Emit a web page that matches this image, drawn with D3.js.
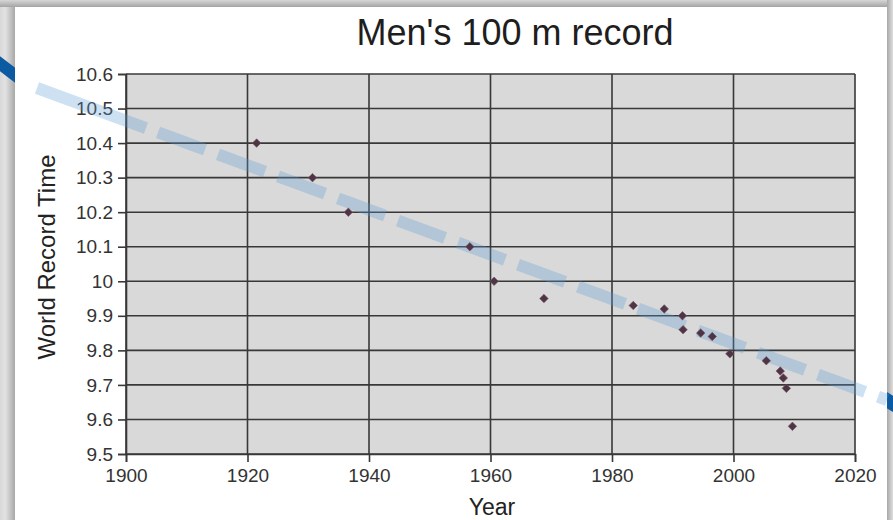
<!DOCTYPE html>
<html>
<head>
<meta charset="utf-8">
<script src="https://cdn.jsdelivr.net/npm/d3@7"></script>
<style>
  html, body { margin: 0; padding: 0; background: #cfcfcf; }
  svg { display: block; }
  text { font-family: "Liberation Sans", Arial, sans-serif; }
</style>
</head>
<body>
<svg id="chart" width="893" height="520"></svg>
<script>
// ---- data ----
const years = [1921.5, 1930.7, 1936.6, 1956.6, 1960.6, 1968.8, 1983.5, 1988.6, 1991.6, 1991.7, 1994.6, 1996.5, 1999.4, 2005.4, 2007.7, 2008.2, 2008.7, 2009.7];
const times = [10.4, 10.3, 10.2, 10.1, 10.0, 9.95, 9.93, 9.92, 9.90, 9.86, 9.85, 9.84, 9.79, 9.77, 9.74, 9.72, 9.69, 9.58];
const xTicks = [1900, 1920, 1940, 1960, 1980, 2000, 2020];
const yTicks = [9.5, 9.6, 9.7, 9.8, 9.9, 10, 10.1, 10.2, 10.3, 10.4, 10.5, 10.6];
const titleText = "Men's 100 m record";
const xLabel = "Year";
const yLabel = "World Record Time";

const W = 893, H = 520;
const svg = d3.select("#chart");
const defs = svg.append("defs");

// ---- slide background / panel shadow ----
function lin(id, x1, y1, x2, y2, stops) {
  const g = defs.append("linearGradient").attr("id", id)
    .attr("x1", x1).attr("y1", y1).attr("x2", x2).attr("y2", y2);
  stops.forEach(s => g.append("stop").attr("offset", s[0]).attr("stop-color", s[1]));
}
lin("gLeft", 0, 0, 1, 0, [[0, "#d8d8d8"], [0.35, "#e2e2e2"], [1, "#a8a8a8"]]);
lin("gTop", 0, 0, 0, 1, [[0, "#d6d6d6"], [1, "#a4a4a4"]]);
lin("gRight", 0, 0, 1, 0, [[0, "#a8a8a8"], [1, "#dedede"]]);

const panel = { x0: 15, y0: 7, x1: 887 };
svg.append("rect").attr("x", 0).attr("y", 0).attr("width", W).attr("height", H).attr("fill", "#cfcfcf");
svg.append("rect").attr("x", 0).attr("y", 0).attr("width", panel.x0).attr("height", H).attr("fill", "url(#gLeft)");
svg.append("rect").attr("x", 0).attr("y", 0).attr("width", W).attr("height", panel.y0).attr("fill", "url(#gTop)");
svg.append("rect").attr("x", panel.x1).attr("y", 0).attr("width", W - panel.x1).attr("height", H).attr("fill", "url(#gRight)");

// dark blue trend stroke behind the panel
svg.append("line").attr("x1", -5).attr("y1", 60).attr("x2", 20).attr("y2", 79)
  .attr("stroke", "#0b5aa2").attr("stroke-width", 12);
svg.append("line").attr("x1", 880).attr("y1", 396).attr("x2", 900).attr("y2", 408)
  .attr("stroke", "#0b5aa2").attr("stroke-width", 14);

// white panel
svg.append("rect").attr("x", panel.x0).attr("y", panel.y0)
  .attr("width", panel.x1 - panel.x0).attr("height", H - panel.y0 + 5).attr("fill", "#ffffff");

// ---- chart ----
const plot = { left: 126, right: 855, top: 74, bottom: 454 };
const x = d3.scaleLinear().domain([1900, 2020]).range([plot.left, plot.right]);
const y = d3.scaleLinear().domain([9.5, 10.6]).range([plot.bottom, plot.top]);

svg.append("rect").attr("x", plot.left).attr("y", plot.top)
  .attr("width", plot.right - plot.left).attr("height", plot.bottom - plot.top)
  .attr("fill", "#d9d9d9");

const gridColor = "#383838";
svg.append("g").selectAll("line").data(yTicks).join("line")
  .attr("x1", plot.left).attr("x2", plot.right)
  .attr("y1", d => y(d)).attr("y2", d => y(d))
  .attr("stroke", gridColor).attr("stroke-width", 1.6);
svg.append("g").selectAll("line").data(xTicks).join("line")
  .attr("y1", plot.top).attr("y2", plot.bottom)
  .attr("x1", d => x(d)).attr("x2", d => x(d))
  .attr("stroke", gridColor).attr("stroke-width", 1.6);

// axes
const yAxis = d3.axisLeft(y).tickValues(yTicks).tickSize(8).tickPadding(5)
  .tickFormat(d => String(+d.toFixed(1)));
const gy = svg.append("g").attr("transform", `translate(${plot.left},0)`).call(yAxis);
const xAxis = d3.axisBottom(x).tickValues(xTicks).tickSize(8).tickPadding(7).tickFormat(d3.format("d"));
const gx = svg.append("g").attr("transform", `translate(0,${plot.bottom})`).call(xAxis);
[gx, gy].forEach(g => {
  g.select(".domain").attr("stroke", gridColor).attr("stroke-width", 1.6);
  g.selectAll(".tick line").attr("stroke", gridColor).attr("stroke-width", 1.6);
  g.selectAll(".tick text").attr("fill", "#333").attr("font-size", 19)
    .attr("font-family", "Liberation Sans, Arial, sans-serif");
});

// light translucent dashed trend line (decorative) drawn as separate segments
const p0 = [37, 88], p1 = [887, 400];
const slope = (p1[1] - p0[1]) / (p1[0] - p0[0]);
const segs = [[p0[0], 146]];
for (let s = 158; s < p1[0]; s += 60) segs.push([s, Math.min(s + 47, p1[0])]);
svg.append("g").selectAll("line").data(segs).join("line")
  .attr("x1", d => d[0]).attr("y1", d => p0[1] + slope * (d[0] - p0[0]))
  .attr("x2", d => d[1]).attr("y2", d => p0[1] + slope * (d[1] - p0[0]))
  .attr("stroke", "#5b9bd5").attr("stroke-opacity", 0.3).attr("stroke-width", 12);

// points
const sym = d3.symbol().type(d3.symbolSquare).size(36);
svg.append("g").selectAll("path").data(years.map((yr, i) => [yr, times[i]])).join("path")
  .attr("d", sym)
  .attr("transform", d => `translate(${x(d[0])},${y(d[1])}) rotate(45)`)
  .attr("fill", "#4d3545").attr("stroke", "#7a4f63").attr("stroke-width", 0.6);

// titles
svg.append("text").attr("x", 515).attr("y", 45).attr("text-anchor", "middle")
  .attr("font-size", 36).attr("fill", "#1e1e1e").text(titleText);
svg.append("text").attr("x", 492).attr("y", 515).attr("text-anchor", "middle")
  .attr("font-size", 23).attr("fill", "#222").text(xLabel);
svg.append("text").attr("transform", "translate(55,257) rotate(-90)").attr("text-anchor", "middle")
  .attr("font-size", 24).attr("fill", "#222").text(yLabel);
</script>
</body>
</html>
